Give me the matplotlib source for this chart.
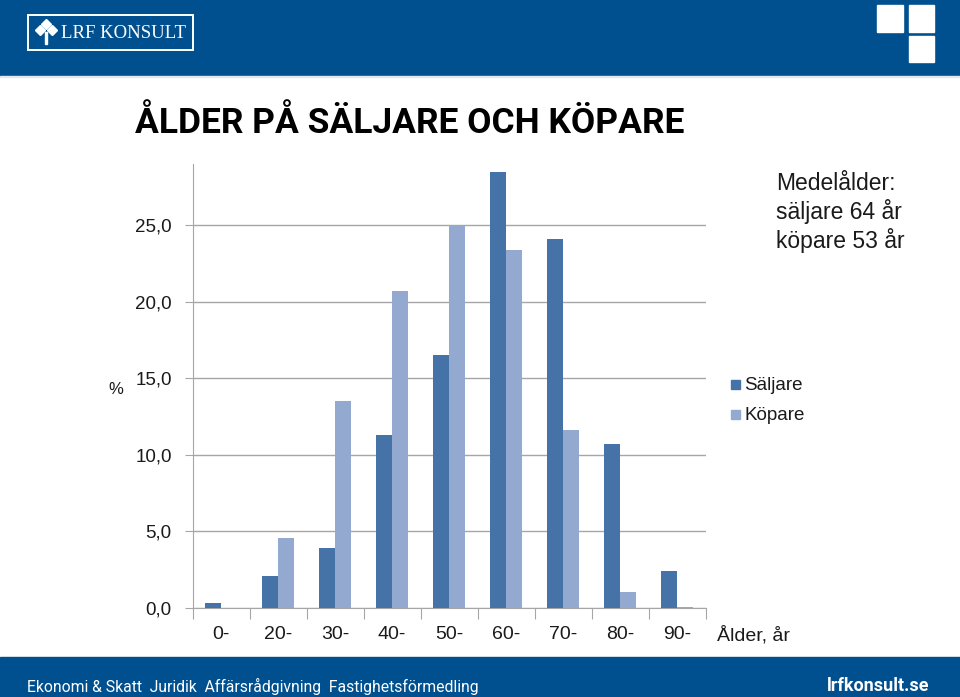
import numpy as np
import matplotlib.pyplot as plt
from matplotlib.patches import Rectangle

# data
categories = ['0-', '20-', '30-', '40-', '50-', '60-', '70-', '80-', '90-']
saljare = [0.3, 2.1, 3.9, 11.3, 16.5, 28.5, 24.1, 10.7, 2.4]
kopare = [0.0, 4.6, 13.5, 20.7, 25.0, 23.4, 11.6, 1.05, 0.05]
yticks = [0, 5, 10, 15, 20, 25]
ytick_labels = ['0,0', '5,0', '10,0', '15,0', '20,0', '25,0']
footer_items = ['Ekonomi & Skatt', 'Juridik', 'Affärsrådgivning', 'Fastighetsförmedling']

dark_blue = '#00508f'
c_salj = '#4572a7'
c_kop = '#94a9d0'
grid_c = '#a6a6a6'
txt = '#1a1a1a'

W, H = 960, 697
fig = plt.figure(figsize=(9.6, 6.97), dpi=100)
plt.rcParams['font.family'] = ['Liberation Sans', 'DejaVu Sans']

def px(x, y):
    # pixel coords (top-left origin) -> figure fraction
    return x / W, 1 - y / H

# header / footer bands
fig.add_artist(Rectangle((0, 1 - 76 / H), 1, 76 / H, transform=fig.transFigure,
                         color=dark_blue, zorder=0))
fig.add_artist(Rectangle((0, 1 - 77 / H), 1, 1 / H, transform=fig.transFigure,
                         color='#dfe7f0', zorder=0))
fig.add_artist(Rectangle((0, 0), 1, 40 / H, transform=fig.transFigure,
                         color=dark_blue, zorder=0))

# logo box
x0, y0 = px(28, 50)
fig.add_artist(Rectangle((x0, y0), 165 / W, 35 / H, transform=fig.transFigure,
                         facecolor='none', edgecolor='white', lw=1.4))
for dx, dy in [(0, -6), (-6, 0), (6, 0)]:
    fig.add_artist(plt.Line2D([px(46 + dx, 0)[0]], [px(0, 30 + dy)[1]], marker='D',
                              markersize=5.5, color='white', transform=fig.transFigure))
fig.add_artist(Rectangle(px(45, 44), 2 / W, 12 / H, transform=fig.transFigure, color='white'))
fig.text(*px(61, 34), 'LRF KONSULT', color='white', family='Liberation Serif',
         fontsize=13.5, va='center', ha='left')

# squares top right
for (sx, sy, sw, sh) in [(877, 5, 26, 27), (909, 5, 25, 27), (909, 36, 25, 26)]:
    fig.add_artist(Rectangle(px(sx, sy + sh), sw / W, sh / H, transform=fig.transFigure,
                             color='white'))

# footer text
fig.text(*px(27, 686), '  '.join(footer_items), color='white', fontsize=11.3,
         family='Roboto', va='center', ha='left')
fig.text(*px(929, 686), 'lrfkonsult.se', color='white', fontsize=13, weight='bold',
         family='Roboto', va='center', ha='right')

# title
fig.text(*px(135, 123), 'ÅLDER PÅ SÄLJARE OCH KÖPARE', fontsize=25.5, weight='bold',
         family='Roboto', va='center', ha='left', color='black')

# chart
ax = fig.add_axes([192.5 / W, 1 - 608 / H, 513 / W, 444 / H])
x = np.arange(len(categories))
bw = 0.28
ax.bar(x - bw / 2, saljare, bw, color=c_salj, label='Säljare', zorder=3)
ax.bar(x + bw / 2, kopare, bw, color=c_kop, label='Köpare', zorder=3)

ax.set_xlim(-0.5, len(categories) - 0.5)
ax.set_ylim(0, 29)
ax.set_yticks(yticks)
ax.set_yticklabels(ytick_labels)
ax.yaxis.grid(True, color=grid_c, lw=1)
ax.set_axisbelow(True)

ax.set_xticks(np.arange(len(categories) + 1) - 0.5)
ax.set_xticklabels([])
ax.set_xticks(x, minor=True)
ax.set_xticklabels(categories, minor=True)
ax.tick_params(axis='x', which='major', length=8, color=grid_c, direction='out')
ax.tick_params(axis='x', which='minor', length=0, pad=13, labelsize=14, labelcolor=txt)
ax.tick_params(axis='y', length=6, color=grid_c, pad=9, labelsize=13.5, labelcolor=txt)

for s in ['top', 'right']:
    ax.spines[s].set_visible(False)
for s in ['left', 'bottom']:
    ax.spines[s].set_color(grid_c)

fig.text(*px(116, 389), '%', fontsize=12, ha='center', va='center', color=txt)
fig.text(*px(717, 635), 'Ålder, år', fontsize=14, ha='left', va='center', color=txt)

# legend
for i, (lab, col) in enumerate([('Säljare', c_salj), ('Köpare', c_kop)]):
    yy = 384 + 30 * i
    fig.add_artist(Rectangle(px(731, yy + 4.5), 9 / W, 9 / H, transform=fig.transFigure,
                             color=col))
    fig.text(*px(744, yy + 1), lab, fontsize=13.5, ha='left', va='center', color=txt)

# annotation
for i, line in enumerate(['Medelålder:', 'säljare 64 år', 'köpare 53 år']):
    fig.text(*px(776, 183 + 29 * i), line, fontsize=16.5, ha='left', va='center', color=txt)

fig.savefig('out.png', dpi=100)
